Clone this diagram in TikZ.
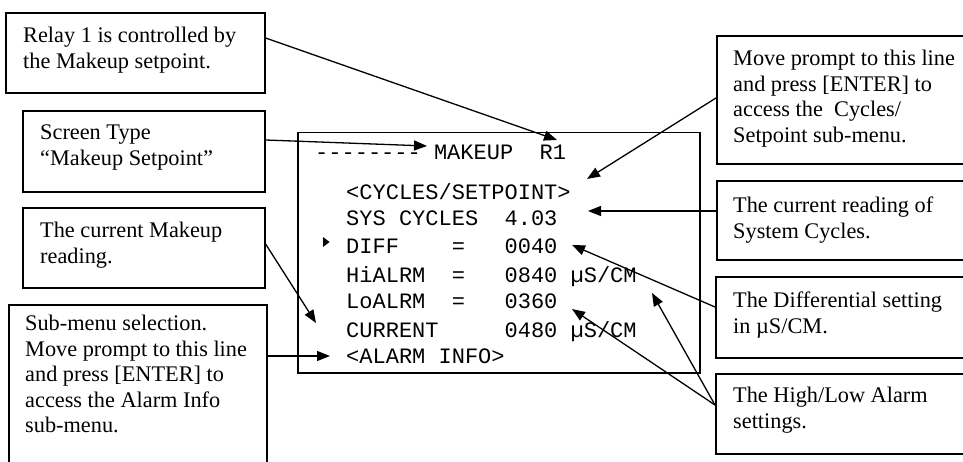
\documentclass[tikz,border=0pt]{standalone}
\usepackage{fontspec}
\setmainfont{Liberation Serif}
\setmonofont{Liberation Mono}
\usetikzlibrary{arrows.meta,calc}
\begin{document}
\begin{tikzpicture}[x=1pt,y=-1pt,
  box/.style={draw, line width=1.6pt, anchor=north west, inner sep=0pt, rectangle},
  txt/.style={anchor=north west, inner sep=0pt, align=left, font=\fontsize{22.3}{25.5}\selectfont},
  mono/.style={anchor=base west, inner sep=0pt, font=\ttfamily\fontsize{22}{26}\selectfont},
  conn/.style={line width=1.3pt, -{Triangle[length=13pt,width=10pt]}},
  plain/.style={line width=1.3pt}]
\useasboundingbox (0,0) rectangle (963,462);
\clip (0,0) rectangle (963,462);

% left boxes
\node[box, minimum width=259pt, minimum height=80pt] (relay) at (5,12) {};
\node[txt] (relayt) at (23,27) {Relay 1 is controlled by\\the Makeup setpoint.};
\node[box, minimum width=242pt, minimum height=81pt] (stype) at (22,110) {};
\node[txt] (stypet) at (40,125) {Screen Type\\“Makeup Setpoint”};
\node[box, minimum width=242pt, minimum height=80pt] (cmake) at (22,207) {};
\node[txt] (cmaket) at (40,222) {The current Makeup\\reading.};
\node[box, minimum width=258pt, minimum height=200pt] (submenu) at (8,304) {};
\node[txt] (submenut) at (25,315) {Sub-menu selection.\\Move prompt to this line\\and press [ENTER] to\\access the Alarm Info\\sub-menu.};

% right boxes
\node[box, minimum width=280pt, minimum height=128pt] (move) at (716,35) {};
\node[txt] (movet) at (733,50) {Move prompt to this line\\and press [ENTER] to\\access the~~Cycles/\\Setpoint sub-menu.};
\node[box, minimum width=280pt, minimum height=79pt] (cread) at (716,180) {};
\node[txt] (creadt) at (733,197) {The current reading of\\System Cycles.};
\node[box, minimum width=280pt, minimum height=81pt] (diff) at (715,276) {};
\node[txt] (difft) at (733,292) {The Differential setting\\in µS/CM.};
\node[box, minimum width=280pt, minimum height=80pt] (hilo) at (715,373) {};
\node[txt] (hilot) at (733,387) {The High/Low Alarm\\settings.};

% screen
\node[box, line width=1.5pt, minimum width=402pt, minimum height=240pt] (scr) at (297,132) {};
\node[mono] (l0) at (315,160) {-{}-{}-{}-{}-{}-{}-{}-~MAKEUP~~R1};
\node[mono] (l1) at (346,200) {<CYCLES/SETPOINT>};
\node[mono] (l2) at (346,226) {SYS~CYCLES~~4.03};
\node[mono] (l3) at (346,254) {DIFF~~~~=~~~0040};
\node[mono] (l4) at (346,283) {HiALRM~~=~~~0840~µS/CM};
\node[mono] (l5) at (346,308) {LoALRM~~=~~~0360};
\node[mono] (l6) at (346,337) {CURRENT~~~~~0480~µS/CM};
\node[mono] (l7) at (346,363) {<ALARM~INFO>};
\fill (323,237) -- (323,247) -- (329.5,242) -- cycle;

% arrow targets
\coordinate (aR1) at (557,140);
\coordinate (aDash) at (427,146);
\coordinate (aCur) at (316,323);
\coordinate (aAlarm) at (330,356);
\coordinate (aCyc) at (587,179);
\coordinate (aSys) at (588,211);
\coordinate (aDiff) at (572,245);
\coordinate (aLo) at (572,309);
\coordinate (aHi) at (652,293);

% connectors
\draw[conn] ($(relay.north east)+(0,26)$) -- (aR1);
\draw[conn] ($(stype.north east)+(0,30)$) -- (aDash);
\draw[conn] ($(cmake.north east)+(0,37)$) -- (aCur);
\draw[conn] ($(submenu.north east)+(0,52)$) -- (aAlarm);
\draw[conn] ($(move.north west)+(0,63)$) -- (aCyc);
\draw[conn] ($(cread.north west)+(0,31)$) -- (aSys);
\draw[conn] ($(diff.north west)+(0,31)$) -- (aDiff);
\draw[conn] ($(hilo.north west)+(0,32)$) -- (aLo);
\draw[conn] ($(hilo.north west)+(0,32)$) -- (aHi);
\end{tikzpicture}
\end{document}
